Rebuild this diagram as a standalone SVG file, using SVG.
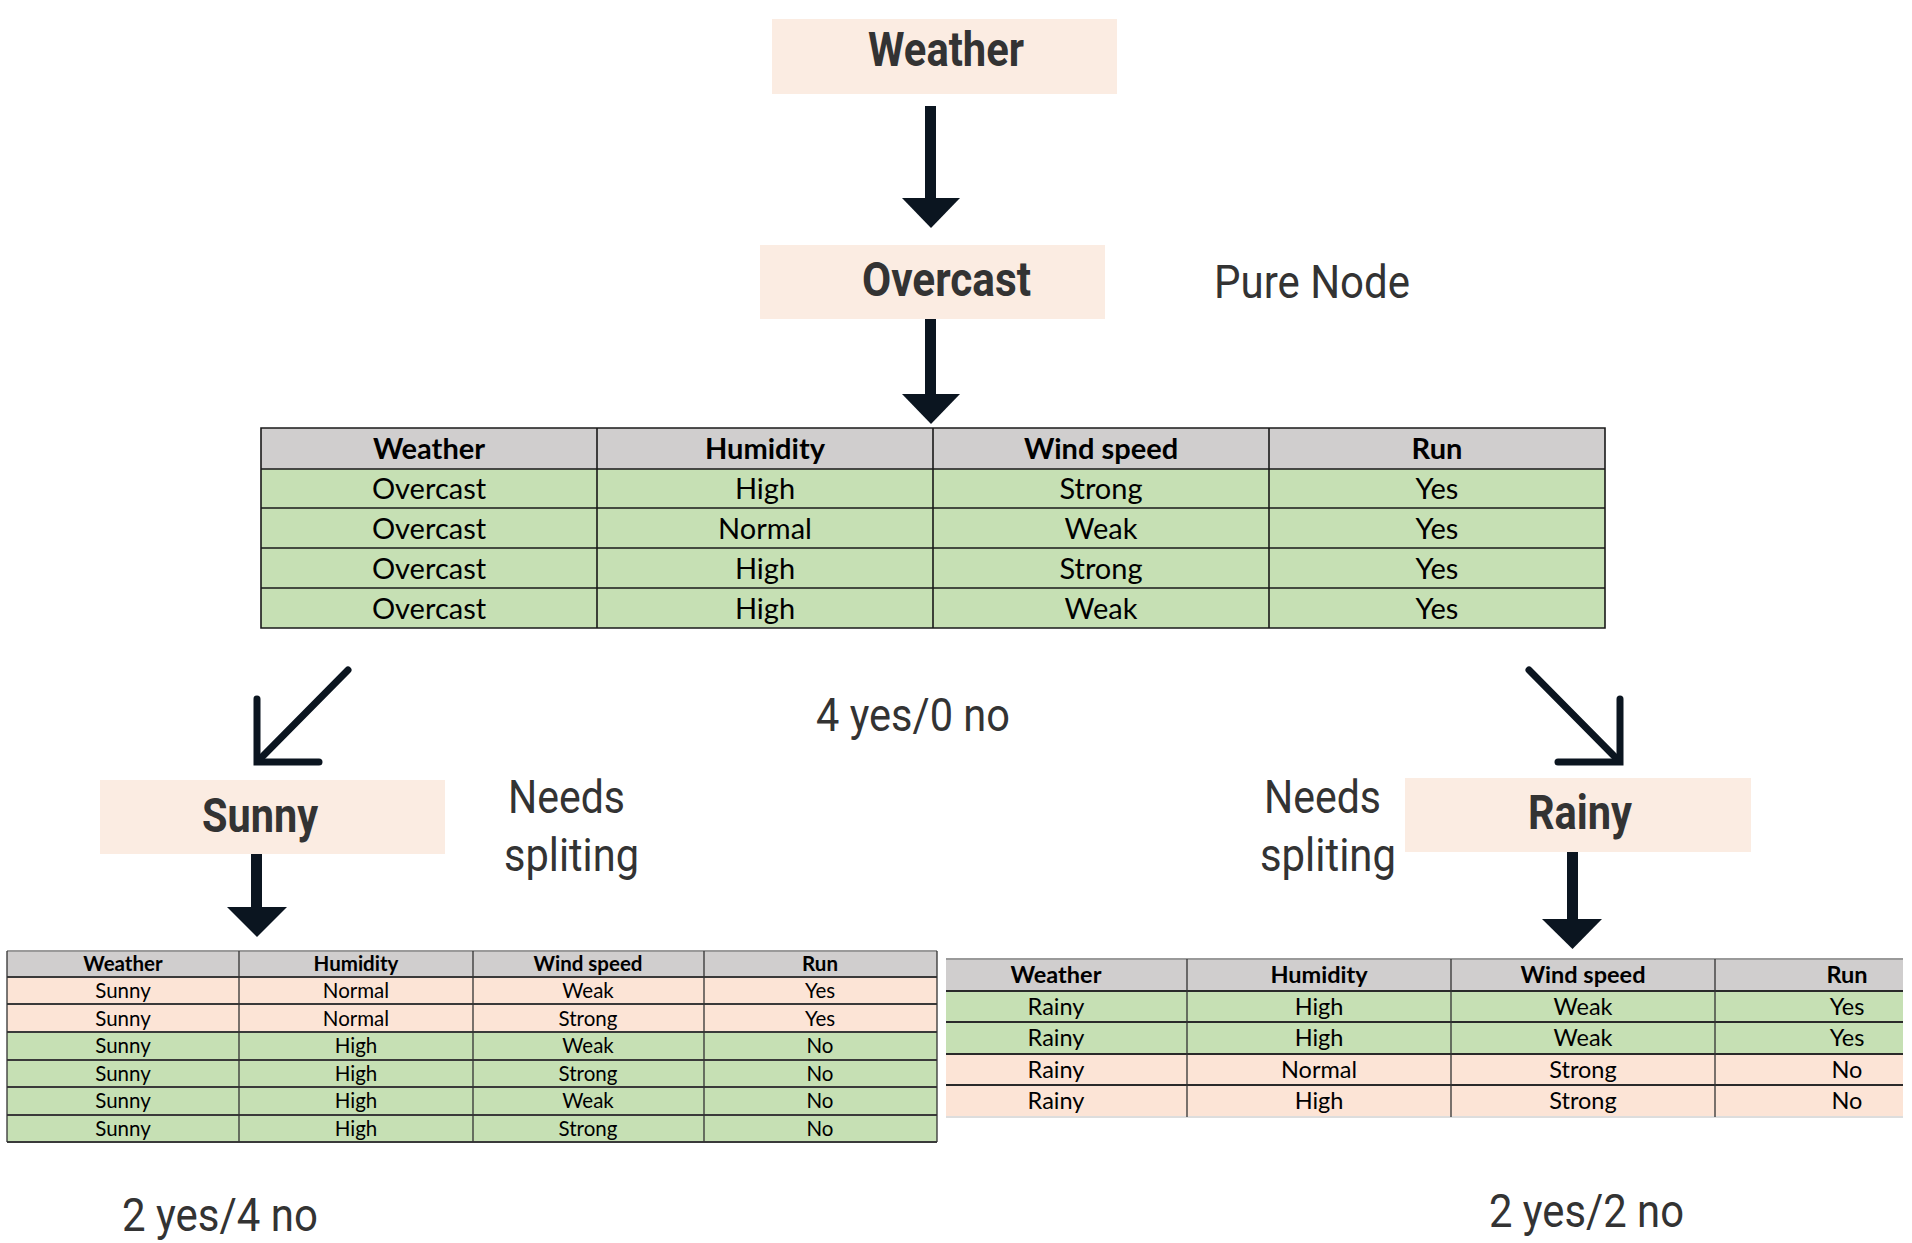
<svg xmlns="http://www.w3.org/2000/svg" width="1912" height="1243" viewBox="0 0 1912 1243">
<style>
.node{fill:#fbece2}
.nl{font-family:Roboto,"Liberation Sans",sans-serif;font-weight:700;font-size:48px;fill:#333333;text-anchor:middle}
.an{font-family:Roboto,"Liberation Sans",sans-serif;font-weight:400;font-size:47px;fill:#333333}
.hd{fill:#d0cece}
.gr{fill:#c6e0b4}
.pk{fill:#fce4d6}
.t1{font-family:Lato,"Liberation Sans",sans-serif;font-size:29px;fill:#000;text-anchor:middle}
.t2{font-family:Lato,"Liberation Sans",sans-serif;font-size:20.5px;fill:#000;text-anchor:middle}
.t3{font-family:Lato,"Liberation Sans",sans-serif;font-size:23.5px;fill:#000;text-anchor:middle}
.b{font-weight:700}
.arr{fill:#0b1520}
.diag{fill:none;stroke:#0b1520;stroke-width:7;stroke-linecap:round;stroke-linejoin:miter}
.ln1{stroke:#1a1a1a;stroke-width:1.6;fill:none}
.ln2{stroke:#3a3a3a;stroke-width:2;fill:none}
.ln2v{stroke:#333;stroke-width:1.3;fill:none}
.ln3{stroke:#2a2a2a;stroke-width:2;fill:none}
</style>
<rect width="1912" height="1243" fill="#ffffff"/>

<g id="connectors">
  <rect class="arr" x="925" y="106" width="11" height="94"/>
  <polygon class="arr" points="902,198 960,198 931,228"/>
  <rect class="arr" x="925" y="319" width="11" height="77"/>
  <polygon class="arr" points="902,394 960,394 931,424"/>
  <line class="diag" x1="348" y1="670" x2="261" y2="758"/>
  <path class="diag" d="M257,699 V762 H319"/>
  <line class="diag" x1="1529" y1="670" x2="1616" y2="758"/>
  <path class="diag" d="M1620,699 V762 H1558"/>
  <rect class="arr" x="251" y="854" width="11" height="55"/>
  <polygon class="arr" points="227,907 287,907 257,937"/>
  <rect class="arr" x="1567" y="852" width="11" height="69"/>
  <polygon class="arr" points="1542,919 1602,919 1572.5,949"/>
</g>

<g id="node-weather">
  <rect class="node" x="772" y="19" width="345" height="75"/>
  <text class="nl" x="946" y="66" textLength="156" lengthAdjust="spacingAndGlyphs">Weather</text>
</g>
<g id="node-overcast">
  <rect class="node" x="760" y="245" width="345" height="74"/>
  <text class="nl" x="946.5" y="296" textLength="169" lengthAdjust="spacingAndGlyphs">Overcast</text>
</g>
<g id="node-sunny">
  <rect class="node" x="100" y="780" width="345" height="74"/>
  <text class="nl" x="260" y="832" textLength="116" lengthAdjust="spacingAndGlyphs">Sunny</text>
</g>
<g id="node-rainy">
  <rect class="node" x="1405" y="778" width="346" height="74"/>
  <text class="nl" x="1580" y="829" textLength="104" lengthAdjust="spacingAndGlyphs">Rainy</text>
</g>

<g id="labels">
  <text class="an" x="1214" y="298" textLength="196" lengthAdjust="spacingAndGlyphs">Pure Node</text>
  <text class="an" x="816" y="731" textLength="194" lengthAdjust="spacingAndGlyphs">4 yes/0 no</text>
  <text class="an" x="508" y="813" textLength="117" lengthAdjust="spacingAndGlyphs">Needs</text>
  <text class="an" x="504" y="871" textLength="135" lengthAdjust="spacingAndGlyphs">spliting</text>
  <text class="an" x="1264" y="813" textLength="117" lengthAdjust="spacingAndGlyphs">Needs</text>
  <text class="an" x="1260" y="871" textLength="136" lengthAdjust="spacingAndGlyphs">spliting</text>
  <text class="an" x="122" y="1231" textLength="196" lengthAdjust="spacingAndGlyphs">2 yes/4 no</text>
  <text class="an" x="1489" y="1227" textLength="195" lengthAdjust="spacingAndGlyphs">2 yes/2 no</text>
</g>

<g id="table-overcast">
  <rect class="hd" x="261" y="428" width="1344" height="41"/>
  <rect class="gr" x="261" y="469" width="1344" height="159"/>
  <path class="ln1" d="M261,428 H1605 V628 H261 Z M261,469 H1605 M261,508 H1605 M261,548 H1605 M261,588 H1605 M597,428 V628 M933,428 V628 M1269,428 V628"/>
  <g class="t1 b">
    <text x="429" y="459">Weather</text><text x="765" y="459">Humidity</text><text x="1101" y="459">Wind speed</text><text x="1437" y="459">Run</text>
  </g>
  <g class="t1">
    <text x="429" y="499">Overcast</text><text x="765" y="499">High</text><text x="1101" y="499">Strong</text><text x="1437" y="499">Yes</text>
    <text x="429" y="539">Overcast</text><text x="765" y="539">Normal</text><text x="1101" y="539">Weak</text><text x="1437" y="539">Yes</text>
    <text x="429" y="579">Overcast</text><text x="765" y="579">High</text><text x="1101" y="579">Strong</text><text x="1437" y="579">Yes</text>
    <text x="429" y="619">Overcast</text><text x="765" y="619">High</text><text x="1101" y="619">Weak</text><text x="1437" y="619">Yes</text>
  </g>
</g>

<g id="table-sunny">
  <rect class="hd" x="7" y="951" width="930" height="26"/>
  <rect class="pk" x="7" y="977" width="930" height="55"/>
  <rect class="gr" x="7" y="1032" width="930" height="110"/>
  <path d="M7,951 H937" stroke="#9a9a9a" stroke-width="2"/>
  <path class="ln2" d="M7,977 H937 M7,1004 H937 M7,1032 H937 M7,1060 H937 M7,1087 H937 M7,1115 H937 M7,1142 H937"/>
  <path class="ln2v" d="M7,951 V1142 M239,951 V1142 M473,951 V1142 M704,951 V1142 M937,951 V1142"/>
  <g class="t2 b">
    <text x="123" y="971">Weather</text><text x="356" y="971">Humidity</text><text x="588" y="971">Wind speed</text><text x="820" y="971">Run</text>
  </g>
  <g class="t2">
    <text x="123" y="998">Sunny</text><text x="356" y="998">Normal</text><text x="588" y="998">Weak</text><text x="820" y="998">Yes</text>
    <text x="123" y="1025.5">Sunny</text><text x="356" y="1025.5">Normal</text><text x="588" y="1025.5">Strong</text><text x="820" y="1025.5">Yes</text>
    <text x="123" y="1053">Sunny</text><text x="356" y="1053">High</text><text x="588" y="1053">Weak</text><text x="820" y="1053">No</text>
    <text x="123" y="1080.5">Sunny</text><text x="356" y="1080.5">High</text><text x="588" y="1080.5">Strong</text><text x="820" y="1080.5">No</text>
    <text x="123" y="1108">Sunny</text><text x="356" y="1108">High</text><text x="588" y="1108">Weak</text><text x="820" y="1108">No</text>
    <text x="123" y="1135.5">Sunny</text><text x="356" y="1135.5">High</text><text x="588" y="1135.5">Strong</text><text x="820" y="1135.5">No</text>
  </g>
</g>

<g id="table-rainy">
  <rect class="hd" x="946" y="959" width="957" height="32"/>
  <rect class="gr" x="946" y="991" width="957" height="63"/>
  <rect class="pk" x="946" y="1054" width="957" height="63"/>
  <path d="M946,959 H1903" stroke="#9a9a9a" stroke-width="2"/>
  <path d="M946,1117 H1903" stroke="#dddddd" stroke-width="2"/>
  <path class="ln3" d="M946,991 H1903 M946,1022 H1903 M946,1054 H1903 M946,1085 H1903"/>
  <path class="ln2v" d="M1187,959 V1117 M1451,959 V1117 M1715,959 V1117"/>
  <g class="t3 b">
    <text x="1056" y="983">Weather</text><text x="1319" y="983">Humidity</text><text x="1583" y="983">Wind speed</text><text x="1847" y="983">Run</text>
  </g>
  <g class="t3">
    <text x="1056" y="1014.5">Rainy</text><text x="1319" y="1014.5">High</text><text x="1583" y="1014.5">Weak</text><text x="1847" y="1014.5">Yes</text>
    <text x="1056" y="1046">Rainy</text><text x="1319" y="1046">High</text><text x="1583" y="1046">Weak</text><text x="1847" y="1046">Yes</text>
    <text x="1056" y="1077.5">Rainy</text><text x="1319" y="1077.5">Normal</text><text x="1583" y="1077.5">Strong</text><text x="1847" y="1077.5">No</text>
    <text x="1056" y="1109">Rainy</text><text x="1319" y="1109">High</text><text x="1583" y="1109">Strong</text><text x="1847" y="1109">No</text>
  </g>
</g>
</svg>
